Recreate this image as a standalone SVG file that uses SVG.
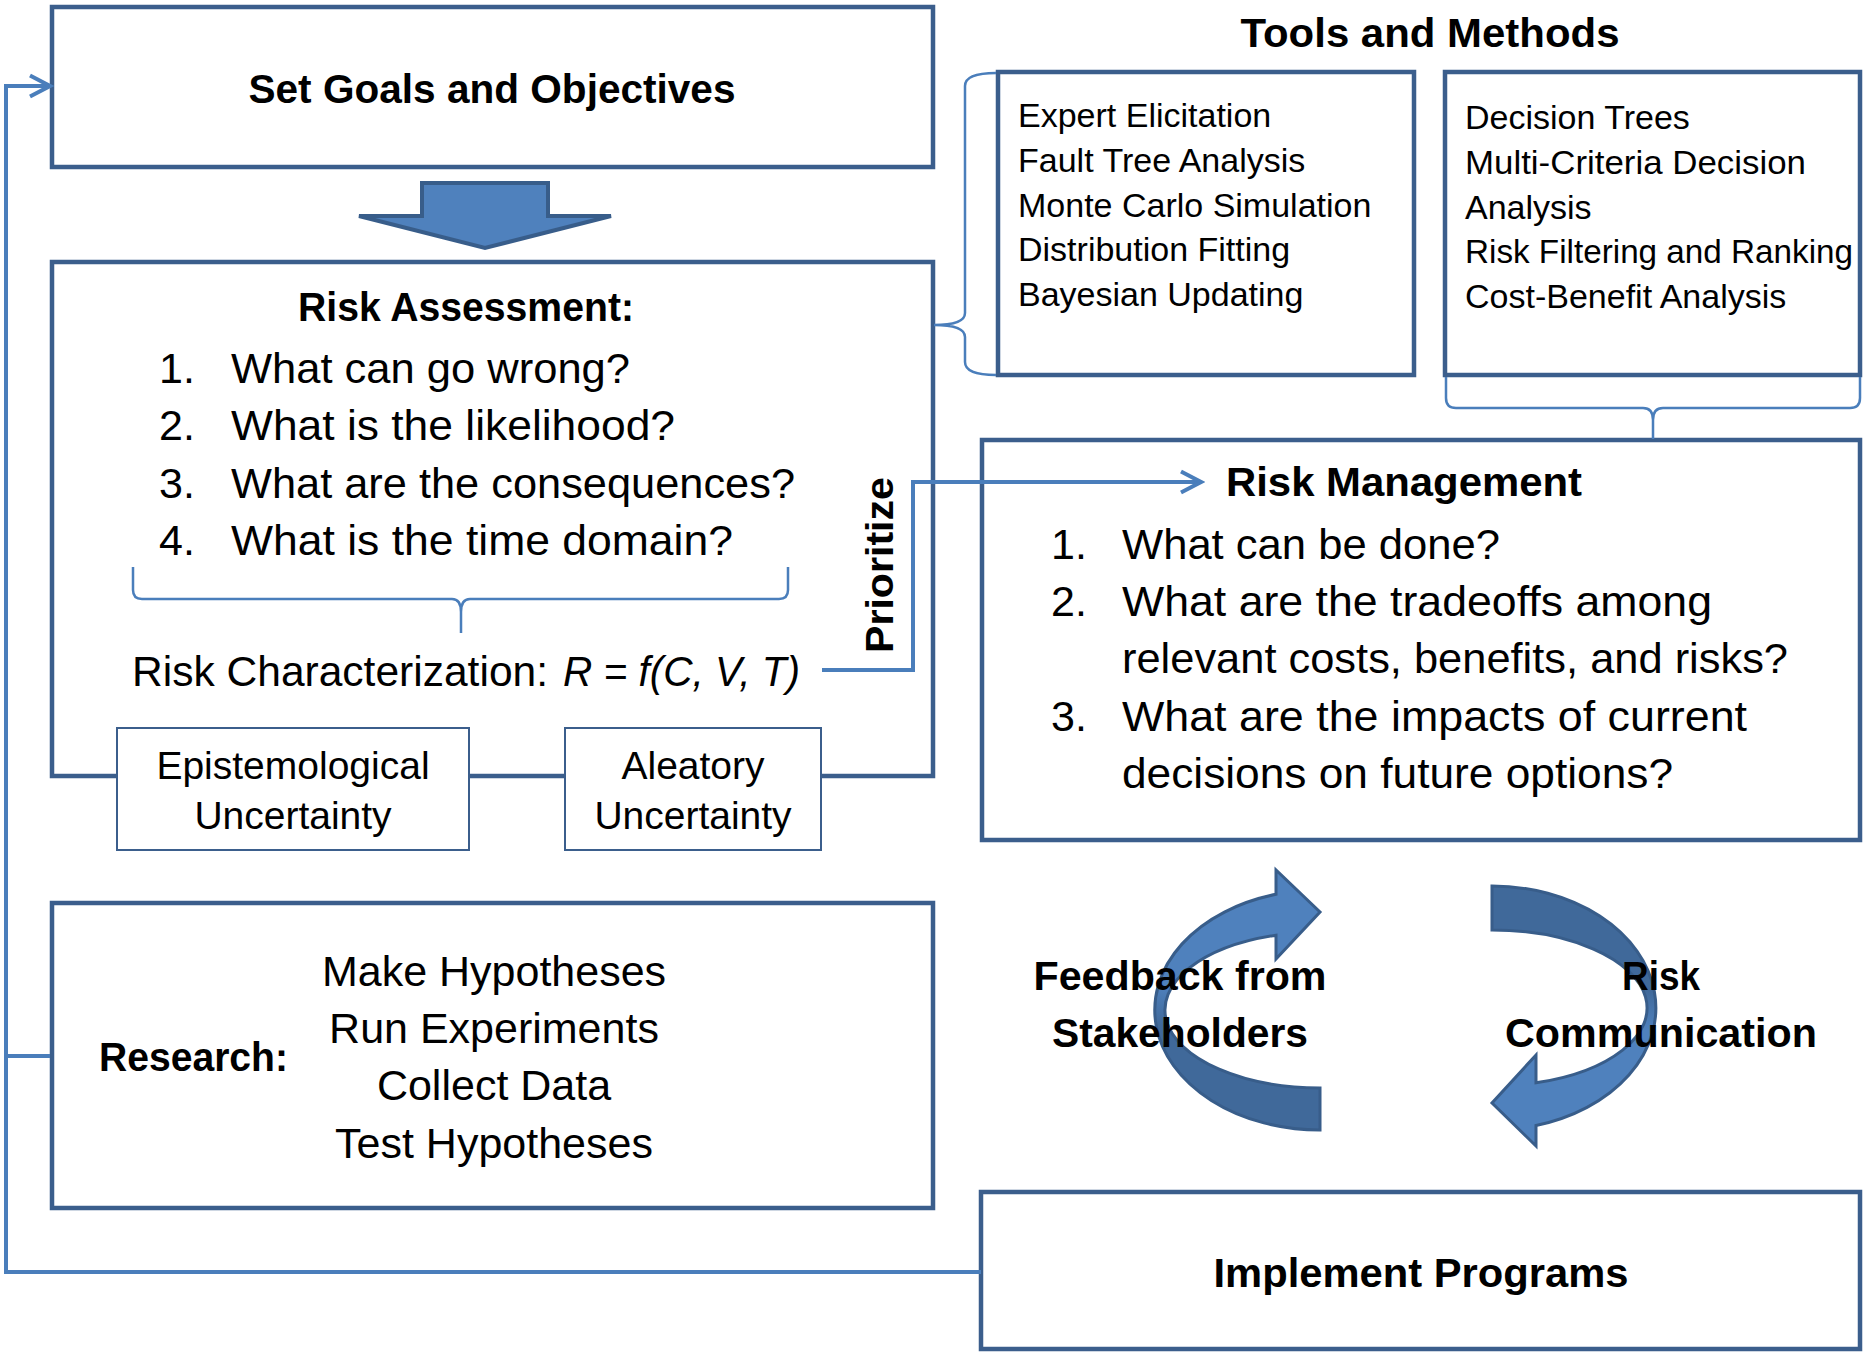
<svg xmlns="http://www.w3.org/2000/svg" width="1864" height="1352" viewBox="0 0 1864 1352">
<defs>
<style>
.box{fill:#fff;stroke:#3B5E8C;stroke-width:4.5}
.sub{fill:#fff;stroke:#3B5E8C;stroke-width:2}
.conn{fill:none;stroke:#4A7EBB;stroke-width:4}
.brace{fill:none;stroke:#4A7EBB;stroke-width:2.5}
.blk{fill:#4F81BD;stroke:#385D8A;stroke-width:4;stroke-linejoin:miter}
.circ{stroke:#385D8A;stroke-width:3}
text{font-family:"Liberation Sans",Arial,sans-serif;fill:#000}
.b{font-weight:bold;font-size:41px}
.r43{font-size:43px}
.r34{font-size:34px}
.r39{font-size:39px}
.m{text-anchor:middle}
</style>
<marker id="arr" markerUnits="userSpaceOnUse" markerWidth="28" markerHeight="28" viewBox="-24 -14 28 28" refX="0" refY="0" orient="auto">
<path d="M-20,-10.5 L0,0 L-20,10.5" fill="none" stroke="#4A7EBB" stroke-width="4"/>
</marker>
<linearGradient id="gL" gradientUnits="userSpaceOnUse" x1="0" y1="985" x2="0" y2="1025">
<stop offset="0" stop-color="#4F81BD"/><stop offset="1" stop-color="#40699A"/>
</linearGradient>
<linearGradient id="gR" gradientUnits="userSpaceOnUse" x1="0" y1="990" x2="0" y2="1030">
<stop offset="0" stop-color="#40699A"/><stop offset="1" stop-color="#4F81BD"/>
</linearGradient>
</defs>
<rect width="1864" height="1352" fill="#fff"/>

<g id="set-goals">
<rect class="box" x="52" y="7" width="881" height="160"/>
<text class="b m" x="492" y="103" textLength="487" lengthAdjust="spacingAndGlyphs">Set Goals and Objectives</text>
</g>

<g id="risk-assessment">
<rect class="box" x="52" y="262" width="881" height="514"/>
<text class="b m" x="466" y="321" textLength="336" lengthAdjust="spacingAndGlyphs">Risk Assessment:</text>
<text class="r43" x="159" y="383">1.</text><text class="r43" x="231" y="383" textLength="399" lengthAdjust="spacingAndGlyphs">What can go wrong?</text>
<text class="r43" x="159" y="440">2.</text><text class="r43" x="231" y="440" textLength="444" lengthAdjust="spacingAndGlyphs">What is the likelihood?</text>
<text class="r43" x="159" y="498">3.</text><text class="r43" x="231" y="498" textLength="564" lengthAdjust="spacingAndGlyphs">What are the consequences?</text>
<text class="r43" x="159" y="555">4.</text><text class="r43" x="231" y="555" textLength="502" lengthAdjust="spacingAndGlyphs">What is the time domain?</text>
<path class="brace" d="M133,567 L133,590 Q133,599 142,599 L452,599 Q461,599 461,612 L461,633 M461,612 Q461,599 470,599 L779,599 Q788,599 788,590 L788,567"/>
<text class="r43" x="132" y="686"><tspan textLength="416" lengthAdjust="spacingAndGlyphs">Risk Characterization:</tspan><tspan x="563" font-style="italic" textLength="237" lengthAdjust="spacingAndGlyphs">R = f(C, V, T)</tspan></text>
</g>

<g id="epistemological-uncertainty">
<rect class="sub" x="117" y="728" width="352" height="122"/>
<text class="r39 m" x="293" y="779">Epistemological</text>
<text class="r39 m" x="293" y="829">Uncertainty</text>
</g>

<g id="aleatory-uncertainty">
<rect class="sub" x="565" y="728" width="256" height="122"/>
<text class="r39 m" x="693" y="779">Aleatory</text>
<text class="r39 m" x="693" y="829">Uncertainty</text>
</g>

<g id="tools-title">
<text class="b m" x="1430" y="47" textLength="379" lengthAdjust="spacingAndGlyphs">Tools and Methods</text>
</g>

<g id="tools-assessment">
<rect class="box" x="998" y="72" width="416" height="303"/>
<text class="r34" x="1018" y="127">Expert Elicitation</text>
<text class="r34" x="1018" y="172">Fault Tree Analysis</text>
<text class="r34" x="1018" y="217">Monte Carlo Simulation</text>
<text class="r34" x="1018" y="261">Distribution Fitting</text>
<text class="r34" x="1018" y="306">Bayesian Updating</text>
</g>

<g id="tools-management">
<rect class="box" x="1445" y="72" width="415" height="303"/>
<text class="r34" x="1465" y="129">Decision Trees</text>
<text class="r34" x="1465" y="174" textLength="341" lengthAdjust="spacingAndGlyphs">Multi-Criteria Decision</text>
<text class="r34" x="1465" y="219">Analysis</text>
<text class="r34" x="1465" y="263" textLength="388" lengthAdjust="spacingAndGlyphs">Risk Filtering and Ranking</text>
<text class="r34" x="1465" y="308">Cost-Benefit Analysis</text>
</g>

<g id="risk-management">
<rect class="box" x="982" y="440" width="878" height="400"/>
<text class="b" x="1226" y="496" textLength="356" lengthAdjust="spacingAndGlyphs">Risk Management</text>
<text class="r43" x="1051" y="559">1.</text><text class="r43" x="1122" y="559" textLength="378" lengthAdjust="spacingAndGlyphs">What can be done?</text>
<text class="r43" x="1051" y="616">2.</text><text class="r43" x="1122" y="616" textLength="590" lengthAdjust="spacingAndGlyphs">What are the tradeoffs among</text>
<text class="r43" x="1122" y="673" textLength="666" lengthAdjust="spacingAndGlyphs">relevant costs, benefits, and risks?</text>
<text class="r43" x="1051" y="731">3.</text><text class="r43" x="1122" y="731" textLength="625" lengthAdjust="spacingAndGlyphs">What are the impacts of current</text>
<text class="r43" x="1122" y="788" textLength="551" lengthAdjust="spacingAndGlyphs">decisions on future options?</text>
</g>

<g id="research">
<rect class="box" x="52" y="903" width="881" height="305"/>
<text class="b" x="99" y="1071" textLength="189" lengthAdjust="spacingAndGlyphs">Research:</text>
<text class="r43 m" x="494" y="986">Make Hypotheses</text>
<text class="r43 m" x="494" y="1043">Run Experiments</text>
<text class="r43 m" x="494" y="1100">Collect Data</text>
<text class="r43 m" x="494" y="1158">Test Hypotheses</text>
</g>

<g id="feedback-from-stakeholders">
<path class="circ" fill="url(#gL)" d="M1320,1130 A165,120 0 0 1 1276,894.3 L1276,870 L1320,912 L1276,959 L1276,935.2 A155,78 0 0 0 1320,1088 Z"/>
<text class="b m" x="1180" y="990" textLength="293" lengthAdjust="spacingAndGlyphs">Feedback from</text>
<text class="b m" x="1180" y="1047" textLength="256" lengthAdjust="spacingAndGlyphs">Stakeholders</text>
</g>

<g id="risk-communication">
<path class="circ" fill="url(#gR)" d="M1492,886 A164,122 0 0 1 1536,1125.5 L1536,1146 L1492,1103 L1536,1055 L1536,1082.8 A155,78 0 0 0 1492,930 Z"/>
<text class="b m" x="1661" y="990" textLength="78" lengthAdjust="spacingAndGlyphs">Risk</text>
<text class="b m" x="1661" y="1047" textLength="312" lengthAdjust="spacingAndGlyphs">Communication</text>
</g>

<g id="implement-programs">
<rect class="box" x="981" y="1192" width="879" height="157"/>
<text class="b m" x="1421" y="1287" textLength="415" lengthAdjust="spacingAndGlyphs">Implement Programs</text>
</g>

<g id="connectors">
<path class="blk" d="M422,183 L548,183 L548,216 L611,216 L485,248 L359,216 L422,216 Z"/>
<path class="brace" d="M996,73 Q965,73 965,86 L965,313 Q965,325 934,325 M934,325 Q965,325 965,337 L965,362 Q965,375 996,375"/>
<path class="brace" d="M1446,377 L1446,398 Q1446,408 1456,408 L1643,408 Q1653,408 1653,420 L1653,439 M1653,420 Q1653,408 1663,408 L1850,408 Q1860,408 1860,398 L1860,377"/>
<path class="conn" d="M822,670 H913 V482 H1201" marker-end="url(#arr)"/>
<path class="conn" d="M981,1272 H6 V86 H50" marker-end="url(#arr)"/>
<path class="conn" d="M6,1056 H50"/>
<text transform="translate(893,565) rotate(-90)" text-anchor="middle" font-family="'DejaVu Sans',Verdana,sans-serif" font-weight="bold" font-size="38" textLength="176" lengthAdjust="spacingAndGlyphs">Prioritize</text>
</g>
</svg>
